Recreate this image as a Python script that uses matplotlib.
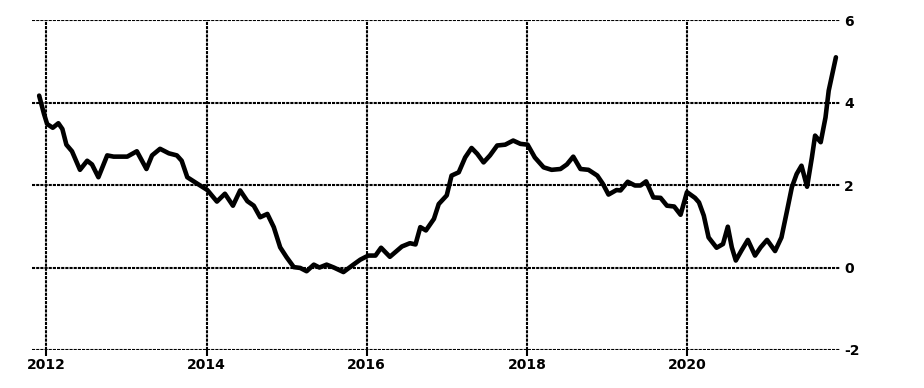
import matplotlib.pyplot as plt

# decimal year, value
dates = [
    2011.91, 2011.97, 2012.01, 2012.08, 2012.15, 2012.20, 2012.25, 2012.32,
    2012.42, 2012.51, 2012.57, 2012.65, 2012.76, 2012.84, 2013.01, 2013.13,
    2013.25, 2013.32, 2013.42, 2013.53, 2013.63, 2013.69, 2013.76, 2013.88,
    2014.01, 2014.13, 2014.23, 2014.33, 2014.42, 2014.51, 2014.59, 2014.67,
    2014.76, 2014.84, 2014.92, 2015.00, 2015.09, 2015.17, 2015.25, 2015.34,
    2015.41, 2015.50, 2015.59, 2015.71, 2015.82, 2015.92, 2016.02, 2016.11,
    2016.18, 2016.29, 2016.44, 2016.54, 2016.61, 2016.67, 2016.74, 2016.84,
    2016.90, 2017.00, 2017.06, 2017.15, 2017.23, 2017.31, 2017.38, 2017.46,
    2017.54, 2017.63, 2017.73, 2017.83, 2017.92, 2018.01, 2018.10, 2018.21,
    2018.31, 2018.42, 2018.50, 2018.58, 2018.67, 2018.77, 2018.88, 2018.95,
    2019.02, 2019.12, 2019.17, 2019.26, 2019.35, 2019.42, 2019.49, 2019.58,
    2019.67, 2019.75, 2019.84, 2019.92, 2020.00, 2020.10, 2020.15, 2020.21,
    2020.27, 2020.37, 2020.45, 2020.51, 2020.56, 2020.61, 2020.68, 2020.76,
    2020.85, 2020.92, 2021.00, 2021.10, 2021.18, 2021.25, 2021.31, 2021.37,
    2021.43, 2021.50, 2021.56, 2021.60, 2021.67, 2021.73, 2021.77, 2021.86,
]
values = [
    4.17, 3.73, 3.48, 3.39, 3.50, 3.36, 2.98, 2.82,
    2.37, 2.59, 2.50, 2.19, 2.72, 2.69, 2.69, 2.82,
    2.39, 2.72, 2.88, 2.77, 2.72, 2.59, 2.19, 2.04,
    1.88, 1.60, 1.79, 1.50, 1.87, 1.61, 1.50, 1.22,
    1.30, 0.98, 0.49, 0.25, 0.01, -0.01, -0.09, 0.07,
    0.00, 0.07, 0.00, -0.11, 0.05, 0.19, 0.29, 0.29,
    0.48, 0.26, 0.51, 0.59, 0.56, 0.98, 0.90, 1.18,
    1.54, 1.75, 2.23, 2.31, 2.67, 2.90, 2.76, 2.55,
    2.72, 2.96, 2.98, 3.08, 3.00, 2.98, 2.67, 2.43,
    2.37, 2.39, 2.50, 2.69, 2.39, 2.37, 2.23, 2.03,
    1.77, 1.88, 1.87, 2.08, 1.99, 1.99, 2.09, 1.70,
    1.69, 1.50, 1.48, 1.28, 1.83, 1.69, 1.58, 1.26,
    0.73, 0.48, 0.57, 0.99, 0.49, 0.17, 0.41, 0.67,
    0.29, 0.49, 0.67, 0.40, 0.73, 1.38, 1.95, 2.27,
    2.47, 1.96, 2.67, 3.20, 3.04, 3.64, 4.29, 5.10,
]

year_ticks = [2012, 2014, 2016, 2018, 2020]
value_ticks = [-2, 0, 2, 4, 6]

plt.rcParams['font.family'] = ['Liberation Sans Narrow', 'DejaVu Sans']

fig = plt.figure(figsize=(9.24, 3.88), dpi=100)
ax = fig.add_axes([0.035, 0.098, 0.874, 0.850])

ax.plot(dates, values, color="black", linewidth=3.3, solid_capstyle="round",
        solid_joinstyle="round", zorder=3, clip_on=False)

ax.set_xlim(2011.825, 2021.91)
ax.set_ylim(-2, 6)
ax.set_xticks(year_ticks)
ax.set_yticks(value_ticks)
ax.set_xticklabels([str(y) for y in year_ticks])
ax.set_yticklabels([str(v) for v in value_ticks])

ax.yaxis.tick_right()
ax.grid(True, color="black", linestyle=(0, (1.5, 0.5)), linewidth=1.5)
for s in ax.spines.values():
    s.set_visible(False)

ax.tick_params(axis="x", length=4, width=1.5, color="black", pad=2,
               labelsize=10)
ax.tick_params(axis="y", length=0, pad=3, labelsize=10)
for lbl in ax.get_xticklabels() + ax.get_yticklabels():
    lbl.set_fontweight("bold")

fig.savefig("out.png", dpi=100)
